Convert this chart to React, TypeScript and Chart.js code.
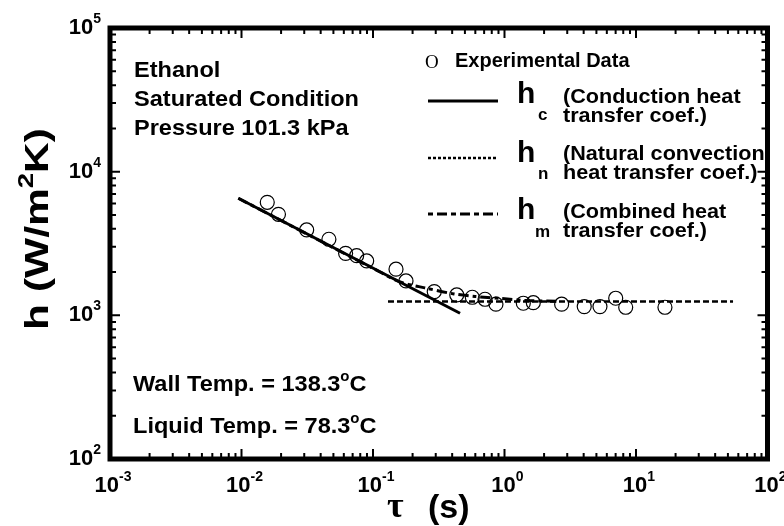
import React, { useEffect, useRef } from 'react';
import { Chart, registerables } from 'chart.js';
Chart.register(...registerables);

// Experimental data (tau in s, h in W/m2K)
const expTau = [0.0157, 0.0191, 0.0313, 0.0462, 0.0619, 0.0751, 0.0895, 0.1496, 0.1782, 0.2923, 0.4335, 0.569, 0.711, 0.861, 1.39, 1.656, 2.72, 4.04, 5.32, 7.01, 8.35, 16.6];
const expH = [6120, 5050, 3930, 3385, 2700, 2600, 2390, 2095, 1735, 1462, 1387, 1336, 1294, 1195, 1214, 1225, 1195, 1150, 1150, 1315, 1138, 1138];
// Conduction heat transfer coefficient h_c
const hcTau = [0.00946, 0.459];
const hcH = [6530, 1034];
// Natural convection heat transfer coefficient h_n
const hnTau = [0.13, 54.7];
const hnH = [1250, 1250];
// Combined heat transfer coefficient h_m
const hmTau = [0.00946, 0.1129, 0.1603, 0.248, 0.413, 0.597, 0.925, 1.43, 2.64];
const hmH = [6530, 2004, 1708, 1552, 1409, 1354, 1312, 1270, 1250];
// Axis decades (exponents)
const xDecades = [-3, -2, -1, 0, 1, 2];
const yDecades = [2, 3, 4, 5];

const SANS = "'Liberation Sans', Arial, sans-serif";
const SERIF = "'Liberation Serif', 'Times New Roman', serif";

type Part = { t: string; font: string; dy?: number };

function drawParts(ctx: CanvasRenderingContext2D, parts: Part[], x: number, y: number, align: 'left' | 'center' | 'right' = 'left', sx = 1) {
  ctx.textAlign = 'left';
  ctx.textBaseline = 'alphabetic';
  let total = 0;
  const widths = parts.map((p) => {
    ctx.font = p.font;
    const w = ctx.measureText(p.t).width;
    total += w;
    return w;
  });
  let cx = 0;
  if (align === 'center') cx = -total / 2;
  if (align === 'right') cx = -total;
  ctx.save();
  ctx.translate(x, y);
  ctx.scale(sx, 1);
  parts.forEach((p, i) => {
    ctx.font = p.font;
    ctx.fillText(p.t, cx, p.dy || 0);
    cx += widths[i];
  });
  ctx.restore();
}

const decor = {
  id: 'decor',
  afterDraw(chart: any) {
    const ctx: CanvasRenderingContext2D = chart.ctx;
    const xs = chart.scales.x;
    const ys = chart.scales.y;
    const { left, right, top, bottom } = chart.chartArea;
    ctx.save();
    ctx.fillStyle = '#000';
    ctx.strokeStyle = '#000';

    // ticks
    ctx.lineWidth = 2;
    ctx.beginPath();
    for (let i = 0; i < xDecades.length; i++) {
      const d = xDecades[i];
      const px = xs.getPixelForValue(Math.pow(10, d));
      ctx.moveTo(px, bottom); ctx.lineTo(px, bottom - 10);
      ctx.moveTo(px, top); ctx.lineTo(px, top + 10);
      if (i < xDecades.length - 1) {
        for (let k = 2; k <= 9; k++) {
          const p = xs.getPixelForValue(k * Math.pow(10, d));
          ctx.moveTo(p, bottom); ctx.lineTo(p, bottom - 6);
          ctx.moveTo(p, top); ctx.lineTo(p, top + 6);
        }
      }
    }
    for (let i = 0; i < yDecades.length; i++) {
      const d = yDecades[i];
      const py = ys.getPixelForValue(Math.pow(10, d));
      ctx.moveTo(left, py); ctx.lineTo(left + 10, py);
      ctx.moveTo(right, py); ctx.lineTo(right - 10, py);
      if (i < yDecades.length - 1) {
        for (let k = 2; k <= 9; k++) {
          const p = ys.getPixelForValue(k * Math.pow(10, d));
          ctx.moveTo(left, p); ctx.lineTo(left + 6, p);
          ctx.moveTo(right, p); ctx.lineTo(right - 6, p);
        }
      }
    }
    ctx.stroke();

    // frame
    ctx.lineWidth = 5;
    ctx.strokeRect(left, top, right - left, bottom - top);

    // tick labels
    const big = `bold 22px ${SANS}`;
    const sup = `bold 14px ${SANS}`;
    xDecades.forEach((d) => {
      const px = xs.getPixelForValue(Math.pow(10, d));
      drawParts(ctx, [{ t: '10', font: big }, { t: String(d), font: sup, dy: -11 }], px + 3, 492, 'center');
    });
    yDecades.forEach((d) => {
      const py = ys.getPixelForValue(Math.pow(10, d));
      drawParts(ctx, [{ t: '10', font: big }, { t: String(d), font: sup, dy: -11 }], 101, py + 6, 'right');
    });

    // axis titles
    ctx.save();
    ctx.translate(48, 229);
    ctx.rotate(-Math.PI / 2);
    drawParts(ctx, [
      { t: 'h (W/m', font: `bold 34px ${SANS}` },
      { t: '2', font: `bold 22px ${SANS}`, dy: -15 },
      { t: 'K)', font: `bold 34px ${SANS}` },
    ], 0, 0, 'center', 1.25);
    ctx.restore();
    drawParts(ctx, [{ t: 'τ', font: `bold 36px ${SERIF}` }], 387, 517, 'left');
    drawParts(ctx, [{ t: '(s)', font: `bold 34px ${SANS}` }], 428, 518, 'left');

    // annotations
    const ann = `bold 22px ${SANS}`;
    const annSx = 1.07;
    drawParts(ctx, [{ t: 'Ethanol', font: ann }], 134, 77, 'left', annSx);
    drawParts(ctx, [{ t: 'Saturated Condition', font: ann }], 134, 106, 'left', annSx);
    drawParts(ctx, [{ t: 'Pressure 101.3 kPa', font: ann }], 134, 135, 'left', annSx);
    const annSup = `bold 14px ${SANS}`;
    drawParts(ctx, [{ t: 'Wall Temp. = 138.3', font: ann }, { t: 'o', font: annSup, dy: -10 }, { t: 'C', font: ann }], 133, 391, 'left', annSx);
    drawParts(ctx, [{ t: 'Liquid Temp. = 78.3', font: ann }, { t: 'o', font: annSup, dy: -10 }, { t: 'C', font: ann }], 133, 433, 'left', annSx);

    // legend
    const lg = `bold 20px ${SANS}`;
    const lgSx = 1.08;
    const hF = `bold 30px ${SANS}`;
    const subF = `bold 17px ${SANS}`;
    drawParts(ctx, [{ t: 'O', font: `19px ${SERIF}` }], 425, 68);
    drawParts(ctx, [{ t: 'Experimental Data', font: lg }], 455, 67);

    const legendLine = (y: number, dash: number[], w: number) => {
      ctx.beginPath();
      ctx.setLineDash(dash);
      ctx.lineWidth = w;
      ctx.moveTo(428, y); ctx.lineTo(498, y);
      ctx.stroke();
      ctx.setLineDash([]);
    };
    legendLine(101, [], 3);
    drawParts(ctx, [{ t: 'h', font: hF }], 517, 103);
    drawParts(ctx, [{ t: 'c', font: subF }], 538, 120);
    drawParts(ctx, [{ t: '(Conduction heat', font: lg }], 563, 103, 'left', lgSx);
    drawParts(ctx, [{ t: 'transfer coef.)', font: lg }], 563, 122, 'left', lgSx);

    legendLine(158, [3, 2], 2.5);
    drawParts(ctx, [{ t: 'h', font: hF }], 517, 162);
    drawParts(ctx, [{ t: 'n', font: subF }], 538, 179);
    drawParts(ctx, [{ t: '(Natural convection', font: lg }], 563, 160, 'left', lgSx);
    drawParts(ctx, [{ t: 'heat transfer coef.)', font: lg }], 563, 179, 'left', lgSx);

    legendLine(214, [5, 4, 10, 4], 3);
    drawParts(ctx, [{ t: 'h', font: hF }], 517, 219);
    drawParts(ctx, [{ t: 'm', font: subF }], 535, 237);
    drawParts(ctx, [{ t: '(Combined heat', font: lg }], 563, 218, 'left', lgSx);
    drawParts(ctx, [{ t: 'transfer coef.)', font: lg }], 563, 237, 'left', lgSx);

    ctx.restore();
  },
};

export default function App() {
  const ref = useRef<HTMLCanvasElement>(null);
  useEffect(() => {
    if (!ref.current) return;
    const toPts = (xa: number[], ya: number[]) => xa.map((x, i) => ({ x, y: ya[i] }));
    const chart = new Chart(ref.current, {
      type: 'scatter',
      data: {
        datasets: [
          {
            label: 'Experimental Data',
            data: toPts(expTau, expH),
            showLine: false,
            pointStyle: 'circle',
            pointRadius: 7,
            pointBorderWidth: 1.2,
            pointBorderColor: '#000',
            pointBackgroundColor: 'rgba(0,0,0,0)',
          },
          {
            label: 'hc',
            data: toPts(hcTau, hcH),
            showLine: true,
            borderColor: '#000',
            borderWidth: 3,
            pointRadius: 0,
          },
          {
            label: 'hn',
            data: toPts(hnTau, hnH),
            showLine: true,
            borderColor: '#000',
            borderWidth: 2.5,
            borderDash: [6, 3],
            pointRadius: 0,
          },
          {
            label: 'hm',
            data: toPts(hmTau, hmH),
            showLine: true,
            borderColor: '#000',
            borderWidth: 3,
            borderDash: [10, 4, 4, 4],
            pointRadius: 0,
            tension: 0.3,
          },
        ],
      } as any,
      options: {
        animation: false,
        responsive: false,
        maintainAspectRatio: false,
        layout: { padding: { left: 110, right: 16.5, top: 28, bottom: 67 } },
        plugins: { legend: { display: false }, tooltip: { enabled: false } },
        scales: {
          x: { type: 'logarithmic', min: 0.001, max: 100, display: false },
          y: { type: 'logarithmic', min: 100, max: 100000, display: false },
        },
      } as any,
      plugins: [decor],
    });
    return () => chart.destroy();
  }, []);
  return (
    <div style={{ position: 'absolute', left: 0, top: 0, width: 784, height: 526, background: '#fff' }}>
      <canvas ref={ref} width={784} height={526} style={{ width: 784, height: 526, display: 'block' }} />
    </div>
  );
}
